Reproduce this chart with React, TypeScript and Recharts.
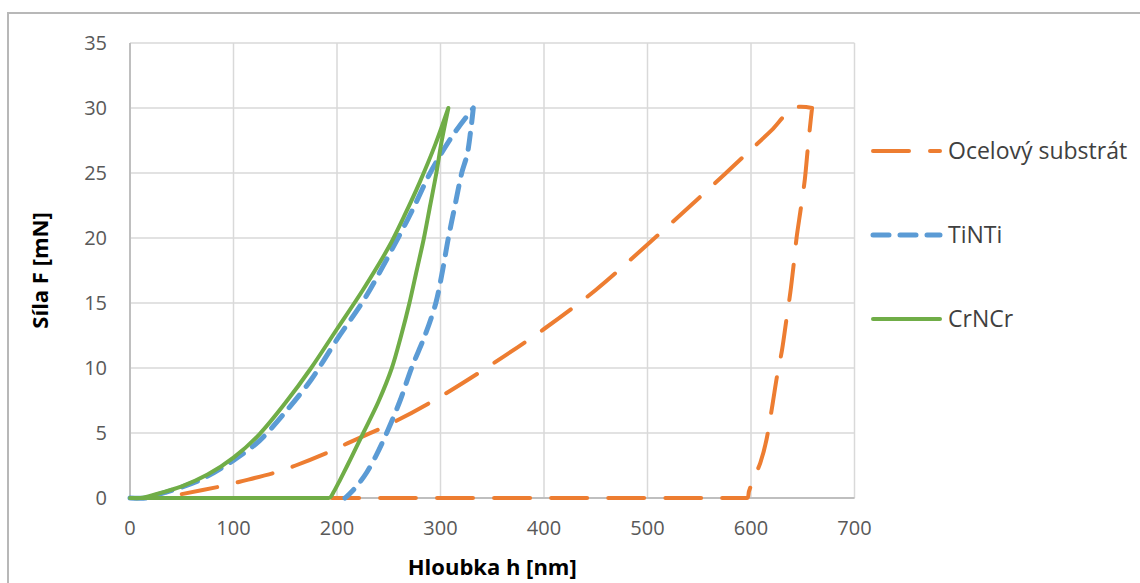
import React from 'react';
import { LineChart, Line, XAxis, YAxis, CartesianGrid, Legend, Label } from 'recharts';

if (typeof document !== 'undefined') {
  document.body.style.margin = '0';
  document.body.style.overflow = 'hidden';
}

// Ocelový substrát (steel substrate)
const ocelH = [50, 88, 106, 140, 160, 191, 210, 254, 300, 350, 400, 450, 500, 550, 600, 620, 641, 659, 658, 655, 652, 648, 644, 641, 638, 634, 630, 625, 621, 615, 609, 602, 598, 596, 195];
const ocelF = [0.3, 0.9, 1.25, 1.95, 2.5, 3.5, 4.2, 5.8, 7.8, 10.3, 13.0, 16.0, 19.5, 23.1, 26.8, 28.3, 30, 30, 29.3, 27, 24.5, 22.2, 20, 17.8, 15.8, 13.6, 11.4, 9.3, 7.3, 4.5, 2.7, 1.4, 0.5, 0, 0];

// TiNTi
const tiH = [0, 15, 35, 68, 100, 125, 150, 175, 200, 228, 259, 275, 290, 311, 331.7, 330, 326, 320.5, 314, 307.6, 302, 295.5, 285, 272, 261, 248, 238, 229, 220, 212, 207.7];
const tiF = [0, 0, 0.45, 1.4, 2.9, 4.4, 6.6, 9.1, 12.2, 15.5, 20, 22.5, 25, 27.8, 30, 28.8, 26.5, 25, 22.5, 20, 17.5, 15, 12.5, 10, 7.5, 5, 3.3, 2, 1, 0.3, 0];

// CrNCr
const crH = [0, 10, 21, 50, 75, 100, 125, 150, 175, 200, 225, 250, 265, 280, 295, 307.6, 301, 296, 290, 284, 277, 270, 262, 253, 240, 226, 218, 210, 203, 197, 192, 100, 0];
const crF = [0, 0, 0.2, 0.9, 1.8, 3.1, 4.9, 7.3, 10.0, 13.0, 16.0, 19.3, 21.7, 24.3, 27.2, 30, 27.4, 25, 22.5, 20, 17.5, 15, 12.5, 10, 7.4, 5.1, 3.8, 2.5, 1.4, 0.5, 0, 0, 0];

const xTicks = [0, 100, 200, 300, 400, 500, 600, 700];
const yTicks = [0, 5, 10, 15, 20, 25, 30, 35];

const seriesNames = ['Ocelový substrát', 'TiNTi', 'CrNCr'];

const toPoints = (h: number[], f: number[]) => h.map((x, i) => ({ x, y: f[i] }));

// Excel-like smoothed line: tangent along neighbour chord, length scaled per segment, sharp turns kept as corners
function smoothCurve(context: any) {
  let pts: number[][] = [];
  const K = 0.3;
  const unit = (dx: number, dy: number) => {
    const l = Math.hypot(dx, dy) || 1;
    return [dx / l, dy / l];
  };
  const tangent = (i: number): number[] => {
    const n = pts.length;
    if (i === 0 || i === n - 1) {
      const a = pts[i === 0 ? 0 : n - 2];
      const b = pts[i === 0 ? 1 : n - 1];
      return unit(b[0] - a[0], b[1] - a[1]);
    }
    const p0 = pts[i - 1], p1 = pts[i], p2 = pts[i + 1];
    const ix = p1[0] - p0[0], iy = p1[1] - p0[1];
    const ox = p2[0] - p1[0], oy = p2[1] - p1[1];
    const il = Math.hypot(ix, iy) || 1, ol = Math.hypot(ox, oy) || 1;
    const dot = (ix * ox + iy * oy) / (il * ol);
    if (dot < 0) return [0, 0];
    if (ol > 5 * il) return unit(ox, oy);
    if (il > 5 * ol) return unit(ix, iy);
    return unit(p2[0] - p0[0], p2[1] - p0[1]);
  };
  return {
    areaStart() {},
    areaEnd() {},
    lineStart() { pts = []; },
    point(x: number, y: number) { pts.push([+x, +y]); },
    lineEnd() {
      if (!pts.length) return;
      context.moveTo(pts[0][0], pts[0][1]);
      const tans = pts.map((_, i) => tangent(i));
      for (let i = 0; i < pts.length - 1; i++) {
        const p1 = pts[i], p2 = pts[i + 1];
        const len = Math.hypot(p2[0] - p1[0], p2[1] - p1[1]) * K;
        const t1 = tans[i], t2 = tans[i + 1];
        context.bezierCurveTo(
          p1[0] + t1[0] * len, p1[1] + t1[1] * len,
          p2[0] - t2[0] * len, p2[1] - t2[1] * len,
          p2[0], p2[1]
        );
      }
    },
  };
}

const series = [
  { name: seriesNames[0], data: toPoints(ocelH, ocelF), color: '#ED7D31', width: 4, dash: '36 21' },
  { name: seriesNames[1], data: toPoints(tiH, tiF), color: '#5B9BD5', width: 5, dash: '16 11' },
  { name: seriesNames[2], data: toPoints(crH, crF), color: '#70AD47', width: 4, dash: undefined as string | undefined },
];

const FONT = '"Open Sans", "Liberation Sans", Arial, sans-serif';

const LegendContent = () => (
  <svg width={278} height={240} style={{ display: 'block' }}>
    {series.map((s, i) => {
      const cy = 33 + i * 84;
      return (
        <g key={s.name}>
          <line x1={11} x2={78} y1={cy} y2={cy} stroke={s.color} strokeWidth={s.width} strokeDasharray={s.dash} strokeLinecap="round" />
          <text x={86} y={cy} dy="0.36em" fontSize={23} fontFamily={FONT} fill="#404040">{s.name}</text>
        </g>
      );
    })}
  </svg>
);

const YTitle = (props: any) => {
  const vb = props.viewBox || { x: 0, y: 43, width: 130, height: 455 };
  const cx = vb.x + 40;
  const cy = vb.y + vb.height / 2;
  return (
    <text x={cx} y={cy} transform={`rotate(-90 ${cx} ${cy})`} textAnchor="middle" dy="0.36em" fontSize={22} fontWeight="bold" fontFamily={FONT} fill="#000">
      Síla F [mN]
    </text>
  );
};

const XTitle = (props: any) => {
  const vb = props.viewBox || { x: 130, y: 498, width: 725, height: 30 };
  const cx = vb.x + vb.width / 2;
  return (
    <text x={cx} y={vb.y + 77} textAnchor="middle" fontSize={22} fontWeight="bold" fontFamily={FONT} fill="#000">
      Hloubka h [nm]
    </text>
  );
};

export default function App() {
  return (
    <div style={{ position: 'relative', width: 1140, height: 583, overflow: 'hidden', background: '#fff' }}>
      <div style={{ position: 'absolute', left: 7, top: 12, width: 1200, height: 700, border: '2px solid #b8b8b8' }} />
      <div style={{ position: 'absolute', left: 0, top: 0 }}>
        <LineChart width={1140} height={583} margin={{ top: 43, right: 285.5, bottom: 55, left: 0 }}>
          <CartesianGrid stroke="#d9d9d9" strokeWidth={1.5} />
          <CartesianGrid stroke="#bfbfbf" strokeWidth={2} horizontalValues={[0]} verticalValues={[0]} />
          <XAxis
            type="number"
            dataKey="x"
            domain={[0, 700]}
            ticks={xTicks}
            interval={0}
            height={30}
            tickLine={false}
            tickSize={0}
            tickMargin={23}
            axisLine={false}
            tick={{ fill: '#595959', fontSize: 20, fontFamily: FONT }}
          >
            <Label content={XTitle} />
          </XAxis>
          <YAxis
            type="number"
            dataKey="y"
            domain={[0, 35]}
            ticks={yTicks}
            interval={0}
            width={130}
            tickLine={false}
            tickSize={0}
            tickMargin={23}
            axisLine={false}
            tick={{ fill: '#595959', fontSize: 20, fontFamily: FONT }}
          >
            <Label content={YTitle} />
          </YAxis>
          {series.map((s) => (
            <Line
              key={s.name}
              data={s.data}
              dataKey="y"
              name={s.name}
              type={smoothCurve as any}
              stroke={s.color}
              strokeWidth={s.width}
              strokeDasharray={s.dash}
              strokeLinecap="round"
              strokeLinejoin="round"
              dot={false}
              activeDot={false}
              isAnimationActive={false}
            />
          ))}
          <Legend
            layout="vertical"
            align="center"
            verticalAlign="middle"
            wrapperStyle={{ position: 'absolute', left: 862, top: 118, width: 278, height: 240 }}
            content={LegendContent}
          />
        </LineChart>
      </div>
    </div>
  );
}
